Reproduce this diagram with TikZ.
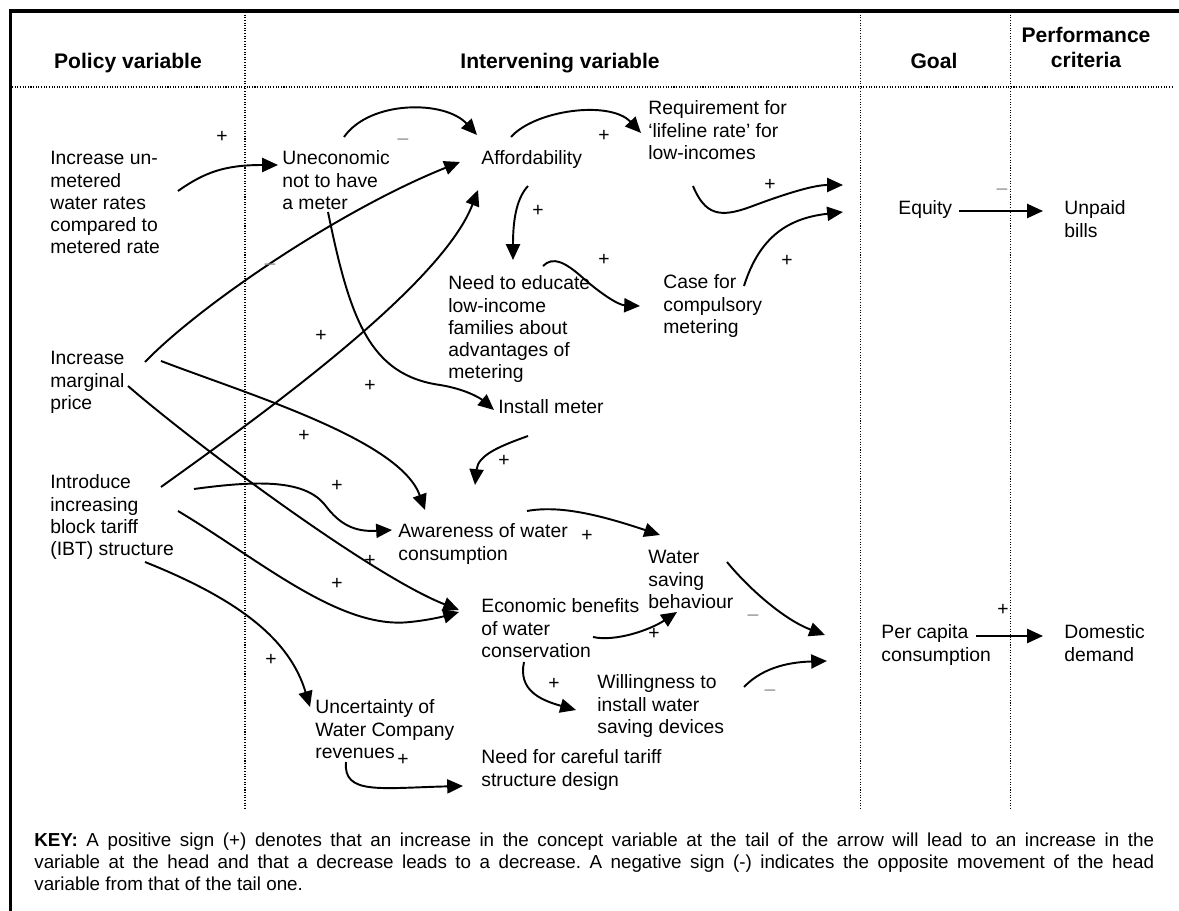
\documentclass[tikz,border=0pt]{standalone}
\usepackage{fontspec}
\setmainfont{Liberation Sans}
\usetikzlibrary{arrows.meta}
\frenchspacing

\tikzset{
	var/.style={anchor=north west, inner sep=0pt, align=left, font=\fontsize{11}{12.65}\selectfont},
	head/.style={anchor=north, inner sep=0pt, align=center, font=\fontsize{12}{14.2}\selectfont\bfseries},
	link/.style={line width=1.1pt, -{Triangle[length=9pt,width=8pt]}},
	plussign/.style={inner sep=0pt, font=\fontsize{11}{12.65}\selectfont},
	minussign/.style={inner sep=0pt, text=black!45, font=\fontsize{11}{12.65}\selectfont},
	colline/.style={line width=0.6pt, dash pattern=on 0.6pt off 0.9pt},
}

\begin{document}
\begin{tikzpicture}[x=0.02cm, y=-0.02cm]
	\useasboundingbox (0,0) rectangle (1179,911);
	%frame and columns
	\draw[line width=2pt] (1179,11) -- (10.5,11) -- (10.5,911);
	\foreach \x in {245, 860.5, 1010.5}{
		\draw[colline] (\x,12) -- (\x,810);
	}
	\draw[colline] (12,87) -- (1172,87);
	
	%headings
	\node[head] (hpolicy) at (128,50.5) {\strut Policy variable};
	\node[head] (hinter) at (560,50.5) {\strut Intervening variable};
	\node[head] (hgoal) at (934,50.5) {\strut Goal};
	\node[head] (hperf) at (1086,24.5) {\strut Performance\\criteria};
	
	%policy variables
	\node[var] (incunm) at (50,149) {\strut Increase un-\\metered\\water rates\\compared to\\metered rate};
	\node[var] (incmarg) at (50,349) {\strut Increase\\marginal\\price};
	\node[var] (ibt) at (50,473) {\strut Introduce\\increasing\\block tariff\\(IBT) structure};
	
	%intervening variables
	\node[var] (unecon) at (282,149) {\strut Uneconomic\\not to have\\a meter};
	\node[var] (afford) at (481,149) {\strut Affordability};
	\node[var] (lifeline) at (648,99) {\strut Requirement for\\`lifeline rate' for\\low-incomes};
	\node[var] (educate) at (448,274) {\strut Need to educate\\low-income\\families about\\advantages of\\metering};
	\node[var] (compuls) at (663,273) {\strut Case for\\compulsory\\metering};
	\node[var] (install) at (498,398) {\strut Install meter};
	\node[var] (aware) at (398,522) {\strut Awareness of water\\consumption};
	\node[var] (econ) at (481,597) {\strut Economic benefits\\of water\\conservation};
	\node[var] (saving) at (648,548) {\strut Water\\saving\\behaviour};
	\node[var] (willing) at (597,673) {\strut Willingness to\\install water\\saving devices};
	\node[var] (uncert) at (315,698) {\strut Uncertainty of\\Water Company\\revenues};
	\node[var] (tariff) at (481,748) {\strut Need for careful tariff\\structure design};
	
	%goals and criteria
	\node[var] (equity) at (898,199) {\strut Equity};
	\node[var] (unpaid) at (1064,199) {\strut Unpaid\\bills};
	\node[var] (percap) at (881,623) {\strut Per capita\\consumption};
	\node[var] (domestic) at (1064,623) {\strut Domestic\\demand};
	
	%links
	\draw[link] ([shift={(128,42)}]incunm.north west) .. controls +(27,-19) and +(-53,0) .. ([shift={(-4,16)}]unecon.north west);
	\draw[link] ([shift={(62,-12)}]unecon.north west) .. controls +(26,-37) and +(-32,-35) .. ([shift={(-4,-14)}]afford.north west);
	\draw[link] ([shift={(95,13)}]incmarg.north west) .. controls +(55,-57) and +(-120,48) .. ([shift={(-21,13)}]afford.north west);
	\draw[link] ([shift={(111,14)}]ibt.north west) .. controls +(79,-57) and +(-38,100) .. ([shift={(-3,41)}]afford.north west);
	\draw[link] ([shift={(46,63)}]unecon.north west) .. controls +(22,108) and +(-70,-10) .. (440,385)
		.. controls +(25,4) and +(-14,-12) .. ([shift={(-4,12)}]install.north west);
	\draw[link] ([shift={(47,37)}]afford.north west) .. controls +(-13,14) and +(0,-35) .. ([shift={(65,-14)}]educate.north west);
	\draw[link] ([shift={(30,-12)}]afford.north west) .. controls +(24,-27) and +(-31,-33) .. ([shift={(-7,34)}]lifeline.north west);
	\draw[link] ([shift={(45,87)}]lifeline.north west) .. controls +(12,29) and +(-30,11) .. (750,207)
		.. controls +(40,-15) and +(-28,0) .. ([shift={(-55,-14)}]equity.north west);
	\draw[link] ([shift={(81,13)}]compuls.north west) .. controls +(16,-51) and +(-53,6) .. ([shift={(-55,13)}]equity.north west);
	\draw[link] ([shift={(95,-8)}]educate.north west) .. controls +(10,-10) and +(-18,-16) .. (583,278)
		.. controls +(17,15) and +(-22,-1) .. ([shift={(-23,33)}]compuls.north west);
	\draw[link] ([shift={(61,12)}]equity.north west) -- ([shift={(-21,12)}]unpaid.north west);
	\draw[link] ([shift={(30,38)}]install.north west) .. controls +(-28,10) and +(3,-30) .. ([shift={(77,-37)}]aware.north west);
	\draw[link] ([shift={(111,12)}]incmarg.north west) .. controls +(89,34) and +(-25,-70) .. ([shift={(27,-12)}]aware.north west);
	\draw[link] ([shift={(144,16)}]ibt.north west) .. controls +(66,-9) and +(-20,-25) .. (325,505)
		.. controls +(15,20) and +(-37,2) .. ([shift={(-6,8)}]aware.north west);
	\draw[link] ([shift={(78,37)}]incmarg.north west) .. controls +(62,54) and +(-89,-35) .. ([shift={(-22,13)}]econ.north west);
	\draw[link] ([shift={(128,38)}]ibt.north west) .. controls +(82,49) and +(-70,8) .. (410,622)
		.. controls +(20,-2) and +(-14,4) .. ([shift={(-22,15)}]econ.north west);
	\draw[link] ([shift={(95,89)}]ibt.north west) .. controls +(95,38) and +(-20,-67) .. ([shift={(-5,9)}]uncert.north west);
	\draw[link] ([shift={(31,64)}]uncert.north west) .. controls +(-3,33) and +(-83,2) .. ([shift={(-18,38)}]tariff.north west);
	\draw[link] ([shift={(129,-11)}]aware.north west) .. controls +(33,-6) and +(-60,-20) .. ([shift={(12,-13)}]saving.north west);
	\draw[link] ([shift={(112,40)}]econ.north west) .. controls +(22,5) and +(-27,18) .. ([shift={(29,64)}]saving.north west);
	\draw[link] ([shift={(43,65)}]econ.north west) .. controls +(-6,28) and +(-36,-10) .. ([shift={(-21,37)}]willing.north west);
	\draw[link] ([shift={(79,14)}]saving.north west) .. controls +(23,28) and +(-40,-15) .. ([shift={(-56,12)}]percap.north west);
	\draw[link] ([shift={(147,14)}]willing.north west) .. controls +(21,-22) and +(-32,1) .. ([shift={(-54,38)}]percap.north west);
	\draw[link] ([shift={(95,13)}]percap.north west) -- ([shift={(-21,13)}]domestic.north west);
	
	%signs
	\foreach \x/\y [count=\i] in {222/137, 604/136, 538/211, 770/185, 604/260, 787/261, 321/336, 370/386, 304/436, 337/486, 504/461, 587/536, 370/561, 337/584, 271/660, 554/684, 403/760, 654/634, 1003/610}{
		\node[plussign] (plus\i) at (\x,\y) {+};
	}
	\foreach \x/\y [count=\i] in {403/142, 270/267, 1002/192, 753/618, 770/693}{
		\node[minussign] (minus\i) at (\x,\y) {\textendash};
	}
	
	%key
	\node[anchor=north west, inner sep=0pt, text width=22.4cm, align=justify, font=\fontsize{10.7}{12.75}\selectfont] (key) at (34,830) {\strut\textbf{KEY:} A positive sign (+) denotes that an increase in the concept variable at the tail of the arrow will lead to an increase in the\linebreak variable at the head and that a decrease leads to a decrease. A negative sign (-) indicates the opposite movement of the head\linebreak variable from that of the tail one.};
\end{tikzpicture}
\end{document}
